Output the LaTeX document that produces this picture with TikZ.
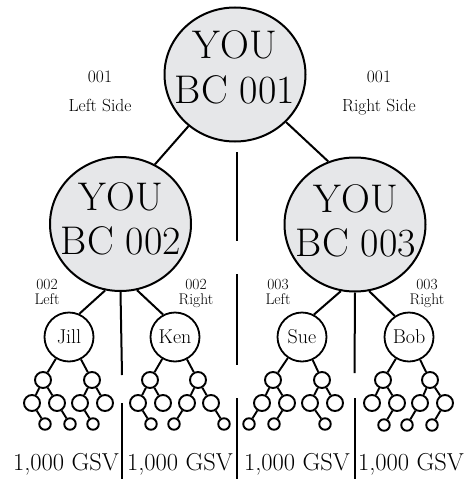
\documentclass[tikz,border=0pt]{standalone}
\usetikzlibrary{shapes.geometric}
\definecolor{cfill}{HTML}{E6E7E9}
\tikzset{
  big/.style={ellipse,draw,line width=2pt,fill=cfill,minimum width=141pt,minimum height=134pt,inner sep=0pt},
  bigtxt/.style={anchor=base,inner sep=0pt,font=\fontsize{40}{48}\selectfont},
  person/.style={circle,draw,line width=1.8pt,fill=white,minimum size=49pt,inner sep=0pt,font=\fontsize{20}{22}\selectfont},
  sc/.style={circle,draw,line width=1.9pt,minimum size=16pt,inner sep=0pt},
  tc/.style={circle,draw,line width=1.9pt,minimum size=11.5pt,inner sep=0pt},
  conn/.style={line width=2pt},
  tl/.style={line width=1.9pt},
  sidetxt/.style={anchor=base,inner sep=0pt,font=\fontsize{17.5}{20}\selectfont},
  smalltxt/.style={anchor=base,inner sep=0pt,font=\fontsize{15.5}{17}\selectfont},
  gsv/.style={anchor=base,inner sep=0pt,font=\fontsize{24.5}{28}\selectfont}
}
\newcommand{\mktree}[7]{%
  \node[sc] (#1a) at (#2,380) {};
  \node[sc] (#1b) at (#3,380) {};
  \node[sc] (#1aa) at (#4,403) {};
  \node[sc] (#1ab) at (#5,403) {};
  \node[sc] (#1ba) at (#6,403) {};
  \node[sc] (#1bb) at (#7,403) {};
  \draw[tl] (#1) -- (#1a); \draw[tl] (#1) -- (#1b);
  \draw[tl] (#1a) -- (#1aa); \draw[tl] (#1a) -- (#1ab);
  \draw[tl] (#1b) -- (#1ba); \draw[tl] (#1b) -- (#1bb);
}
\begin{document}
\begin{tikzpicture}[x=1pt,y=-1pt]
\useasboundingbox (0,0) rectangle (472,479);

% big circles
\node[big] (top) at (235,74.5) {};
\node[big] (ml) at (120.5,224) {};
\node[big] (mr) at (355,224.5) {};
\node[bigtxt] (t1) at (235,58) {YOU};
\node[bigtxt] (t2) at (235,103) {BC 001};
\node[bigtxt] (l1) at (121,210) {YOU};
\node[bigtxt] (l2) at (121,254) {BC 002};
\node[bigtxt] (r1) at (356,212) {YOU};
\node[bigtxt] (r2) at (356,256) {BC 003};

\draw[conn] (top.-132) -- (ml.60);
\draw[conn] (top.-43) -- (mr.113);

% side labels
\node[sidetxt] (s1) at (100,82) {001};
\node[sidetxt] (s2) at (100,111) {Left Side};
\node[sidetxt] (s3) at (379,82) {001};
\node[sidetxt] (s4) at (379,111) {Right Side};

\node[smalltxt] (a1) at (47,289) {002};
\node[smalltxt] (a2) at (47,304) {Left};
\node[smalltxt] (b1) at (196,289) {002};
\node[smalltxt] (b2) at (196,304) {Right};
\node[smalltxt] (c1) at (278,289) {003};
\node[smalltxt] (c2) at (278,304) {Left};
\node[smalltxt] (d1) at (427,289) {003};
\node[smalltxt] (d2) at (427,304) {Right};

% persons
\node[person] (jill) at (69,337) {Jill};
\node[person] (ken) at (175,337) {Ken};
\node[person] (sue) at (302,337) {Sue};
\node[person] (bob) at (409,337) {Bob};

\draw[conn] (ml.-103) -- (jill.66);
\draw[conn] (ml.-76) -- (ken.118);
\draw[conn] (mr.-102) -- (sue.62);
\draw[conn] (mr.-78) -- (bob.124);

% vertical separators
\coordinate (v1a) at (122,375);
\coordinate (v1b) at (122,403);
\coordinate (v1c) at (122,479);
\draw[conn] (ml.south) -- (v1a);
\draw[conn] (v1b) -- (v1c);
\coordinate (c1a) at (237,152);
\coordinate (c1b) at (237,241);
\coordinate (c2a) at (237,274);
\coordinate (c2b) at (237,365);
\coordinate (c3a) at (237,398);
\coordinate (c3b) at (237,479);
\draw[conn] (c1a) -- (c1b);
\draw[conn] (c2a) -- (c2b);
\draw[conn] (c3a) -- (c3b);
\coordinate (v3a) at (354.5,373);
\coordinate (v3b) at (354.5,398);
\coordinate (v3c) at (354.5,479);
\draw[conn] (mr.south) -- (v3a);
\draw[conn] (v3b) -- (v3c);

% small trees
\mktree{jill}{43}{92}{32}{57}{80}{105}
\mktree{ken}{150}{198}{138}{163}{187}{211}
\mktree{sue}{273}{322}{262}{287}{310}{335}
\mktree{bob}{383}{430}{372}{397}{420}{445}

\node[tc] (jx1) at (45,424) {};  \draw[tl] (jillaa) -- (jx1);
\node[tc] (jx2) at (70,424) {};  \draw[tl] (jillab) -- (jx2);
\node[tc] (jx3) at (93,424) {};  \draw[tl] (jillba) -- (jx3);
\node[tc] (kx1) at (151,424) {}; \draw[tl] (kenaa) -- (kx1);
\node[tc] (kx2) at (174,424) {}; \draw[tl] (kenba) -- (kx2);
\node[tc] (kx3) at (224,424) {}; \draw[tl] (kenbb) -- (kx3);
\node[tc] (sx1) at (249,424) {}; \draw[tl] (sueaa) -- (sx1);
\node[tc] (sx2) at (274,424) {}; \draw[tl] (sueab) -- (sx2);
\node[tc] (sx3) at (325,424) {}; \draw[tl] (sueba) -- (sx3);
\node[tc] (bx1) at (384,425) {}; \draw[tl] (bobab) -- (bx1);
\node[tc] (bx2) at (407,425) {}; \draw[tl] (bobba) -- (bx2);
\node[tc] (bx3) at (432,425) {}; \draw[tl] (bobbb) -- (bx3);

% bottom texts
\node[gsv] (g1) at (66,470) {1,000 GSV};
\node[gsv] (g2) at (180,470) {1,000 GSV};
\node[gsv] (g3) at (297,470) {1,000 GSV};
\node[gsv] (g4) at (411,470) {1,000 GSV};
\end{tikzpicture}
\end{document}
